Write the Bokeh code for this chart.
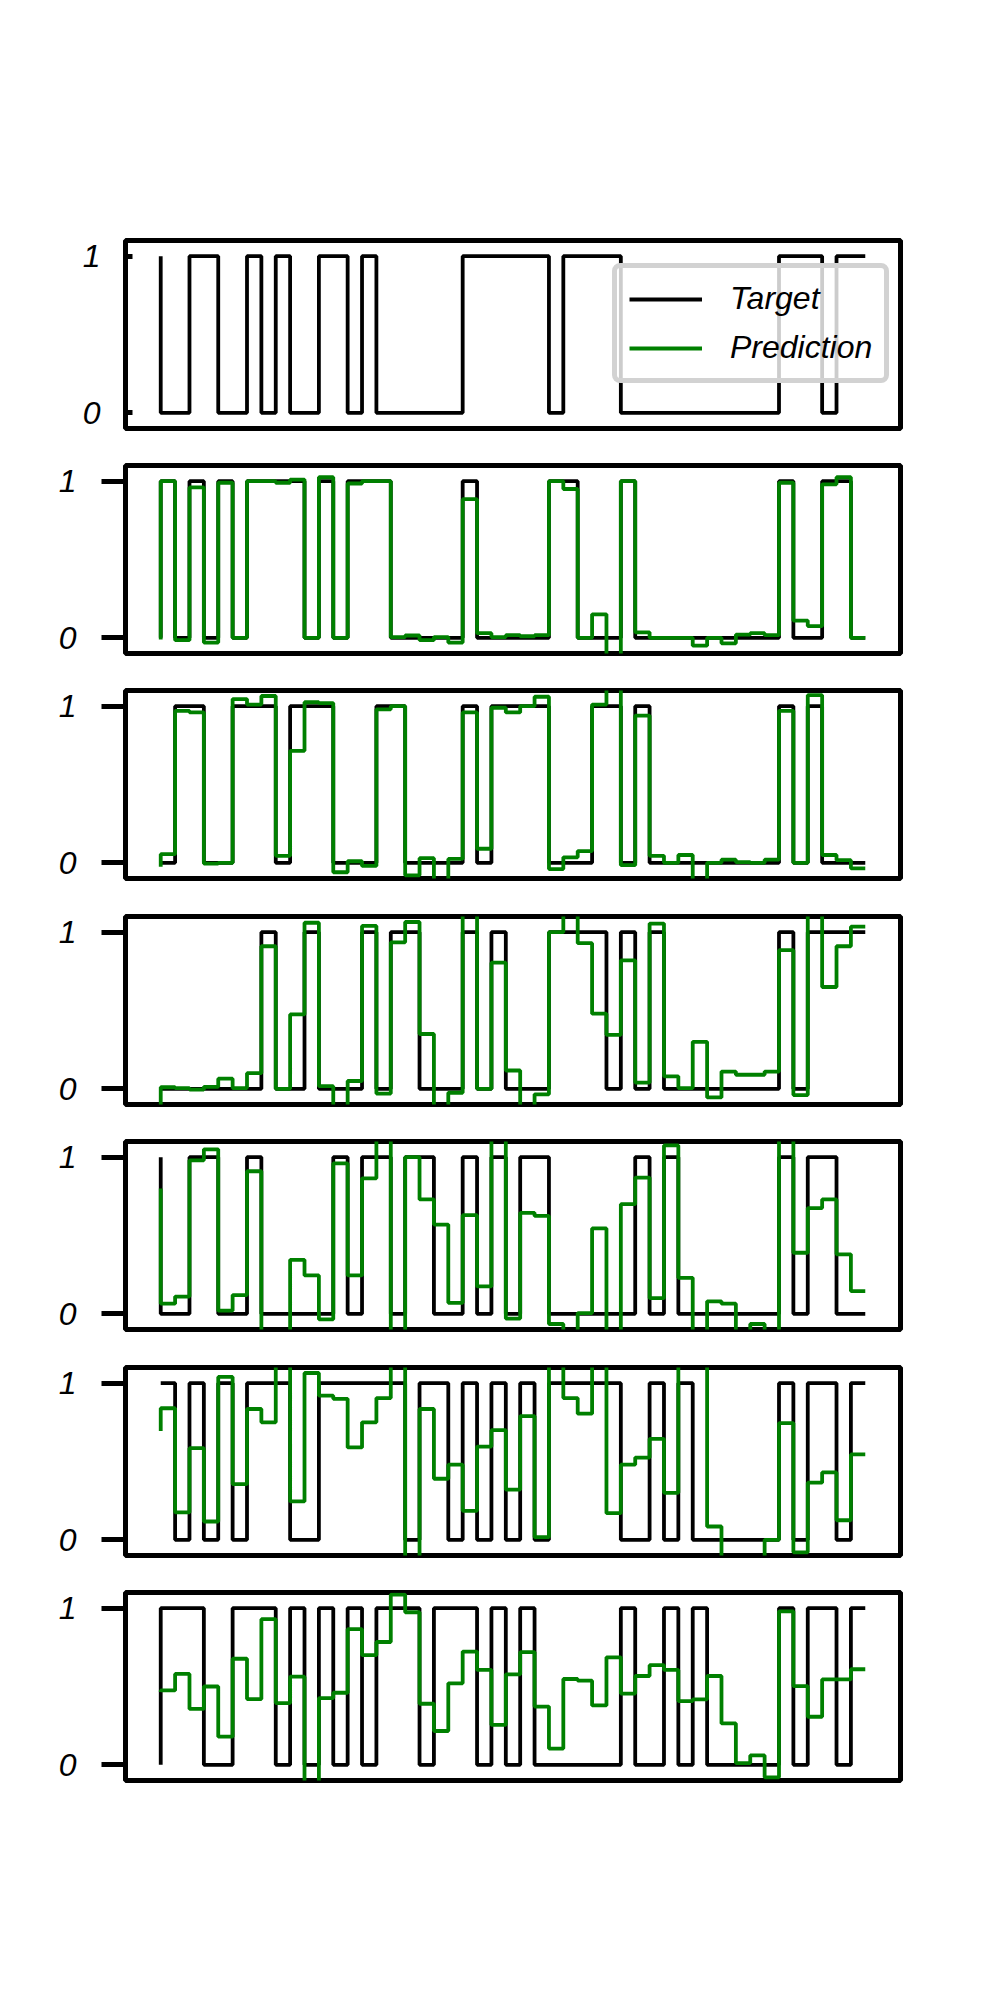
from bokeh.plotting import figure
from bokeh.layouts import column
from bokeh.models import Range1d, Legend, LegendItem, FixedTicker
from bokeh.embed import file_html
from bokeh.resources import INLINE

steps = list(range(50))

target_1 = [1,0,0,1,1,0,0,1,0,1, 0,0,1,1,0,1,0,0,0,0, 0,0,1,1,1,1,1,1,0,1,
            1,1,1,0,0,0,0,0,0,0, 0,0,0,0,1,1,1,0,1,1]
pred_1 = []

target_2 = [0,1,0,1,0,1,0,1,1,1, 1,0,1,0,1,1,1,0,0,0, 0,0,1,0,0,0,0,0,1,1,
            0,0,0,1,0,0,0,0,0,0, 0,0,0,0,1,0,0,1,1,0]
pred_2 = [-0.01, 1.0, -0.015, 0.96, -0.03, 0.99, 0.0, 1.0, 1.0, 0.99,
          1.01, 0.0, 1.025, 0.0, 0.985, 1.0, 1.0, 0.005, 0.015, -0.015,
          0.005, -0.03, 0.885, 0.03, 0.005, 0.017, 0.01, 0.017, 1.0, 0.95,
          0.0, 0.15, -0.2, 1.0, 0.035, 0.0, 0.0, 0.0, -0.05, 0.0,
          -0.035, 0.02, 0.03, 0.017, 0.99, 0.11, 0.075, 0.98, 1.025, 0.0]

target_3 = [0,0,1,1,0,0,1,1,1,0, 1,1,1,0,0,0,1,1,0,0, 0,0,1,0,1,1,1,1,0,0,
            0,1,1,0,1,0,0,0,0,0, 0,0,0,0,1,0,1,0,0,0]
pred_3 = [-0.025, 0.055, 0.97, 0.96, -0.005, 0.0, 1.045, 1.01, 1.065, 0.045,
          0.715, 1.025, 1.02, -0.06, 0.01, -0.02, 0.98, 1.0, -0.08, 0.03,
          -0.15, 0.025, 0.96, 0.09, 0.99, 0.96, 1.0, 1.06, -0.04, 0.035,
          0.075, 1.01, 1.15, -0.015, 0.94, 0.045, 0.0, 0.05, -0.12, 0.0,
          0.02, 0.005, 0.0, 0.02, 0.97, 0.0, 1.07, 0.05, 0.017, -0.035]

target_4 = [0,0,0,0,0,0,0,0,1,0, 0,1,0,0,0,1,0,1,1,0, 0,0,1,0,1,0,0,0,1,1,
            1,1,0,1,0,1,0,0,0,0, 0,0,0,0,1,0,1,1,1,1]
pred_4 = [-0.15, 0.01, 0.005, -0.005, 0.013, 0.065, 0.005, 0.1, 0.91, 0.0,
          0.475, 1.06, 0.017, -0.15, 0.05, 1.04, -0.03, 0.935, 1.065, 0.35,
          -0.15, -0.025, 1.15, 0.0, 0.805, 0.117, -0.15, -0.035, 1.0, 1.15,
          0.93, 0.48, 0.345, 0.82, 0.04, 1.055, 0.08, 0.005, 0.3, -0.055,
          0.11, 0.09, 0.09, 0.11, 0.885, -0.04, 1.15, 0.65, 0.91, 1.035]

target_5 = [1,0,0,1,1,0,0,1,0,0, 0,0,0,1,0,1,1,0,1,1, 0,0,1,0,1,0,1,1,0,0,
            0,0,0,0,1,0,1,0,0,0, 0,0,0,0,1,0,1,1,0,0]
pred_5 = [0.8, 0.065, 0.11, 0.98, 1.05, 0.02, 0.12, 0.91, -0.15, -0.15,
          0.345, 0.245, -0.035, 0.96, 0.245, 0.865, 1.15, -0.15, 1.0, 0.73,
          0.57, 0.07, 0.63, 0.175, 1.15, -0.03, 0.645, 0.625, -0.065, -0.15,
          0.005, 0.545, -0.15, 0.7, 0.87, 0.1, 1.075, 0.23, -0.15, 0.08,
          0.065, -0.15, -0.065, -0.15, 1.15, 0.39, 0.675, 0.73, 0.38, 0.145]

target_6 = [1,1,0,1,0,1,0,1,1,1, 0,0,1,1,1,1,1,1,0,1, 1,0,1,0,1,0,1,0,1,1,
            1,1,1,0,0,1,0,1,0,0, 0,0,0,0,1,0,1,1,0,1]
pred_6 = [0.695, 0.84, 0.175, 0.585, 0.117, 1.04, 0.355, 0.835, 0.75, 1.15,
          0.245, 1.065, 0.92, 0.9, 0.59, 0.75, 0.905, 1.15, -0.15, 0.835,
          0.39, 0.48, 0.185, 0.595, 0.7, 0.32, 0.79, 0.017, 1.15, 0.905,
          0.805, 1.15, 0.17, 0.48, 0.525, 0.645, 0.3, 1.15, 1.15, 0.085,
          -0.15, -0.15, -0.15, 0.0, 0.745, -0.08, 0.365, 0.43, 0.125, 0.545]

target_7 = [0,1,1,1,0,0,1,1,1,0, 1,0,1,0,1,0,1,1,1,0, 1,1,1,0,1,0,1,0,0,0,
            0,0,0,1,0,0,1,0,1,0, 0,0,0,0,1,0,1,1,0,1]
pred_7 = [0.465, 0.475, 0.58, 0.357, 0.5, 0.18, 0.677, 0.42, 0.93, 0.394,
          0.563, -0.15, 0.426, 0.46, 0.866, 0.7, 0.784, 1.087, 0.974, 0.39,
          0.216, 0.52, 0.723, 0.606, 0.255, 0.578, 0.72, 0.372, 0.104, 0.548,
          0.537, 0.379, 0.686, 0.455, 0.567, 0.636, 0.606, 0.407, 0.418, 0.567,
          0.264, 0.011, 0.06, -0.08, 0.98, 0.502, 0.307, 0.545, 0.545, 0.61]

y_ticks = [0, 1]
labels = ["Target", "Prediction"]

targets = [target_1, target_2, target_3, target_4, target_5, target_6, target_7]
preds = [pred_1, pred_2, pred_3, pred_4, pred_5, pred_6, pred_7]

FONT = "Liberation Sans"
GREEN = "#008000"
tops = [240, 465, 690, 916, 1141, 1367, 1592]
FH = 188
FW = 775
LW = 3.8

figs = []
for i in range(7):
    top_border = tops[0] if i == 0 else 20
    if i < 6:
        bottom_border = tops[i + 1] - 20 - (tops[i] + FH)
    else:
        bottom_border = 40
    p = figure(frame_width=FW, frame_height=FH,
               min_border_left=125, min_border_right=100,
               min_border_top=top_border, min_border_bottom=bottom_border,
               x_range=Range1d(-2.45, 51.45), y_range=Range1d(-0.1, 1.1),
               x_axis_location=None, toolbar_location=None,
               output_backend="svg")
    p.grid.visible = False
    p.outline_line_color = "black"
    p.outline_line_width = 5
    p.outline_line_alpha = 1.0
    p.background_fill_color = "white"
    p.border_fill_color = "white"

    ax = p.yaxis[0]
    ax.ticker = FixedTicker(ticks=y_ticks, minor_ticks=[])
    ax.axis_line_color = None
    ax.major_tick_line_color = "black"
    ax.major_tick_line_width = 5
    ax.minor_tick_line_color = None
    if i == 0:
        ax.major_tick_out = 0
        ax.major_tick_in = 7
    else:
        ax.major_tick_out = 24
        ax.major_tick_in = 0
    ax.major_label_standoff = 25
    ax.major_label_text_font = FONT
    ax.major_label_text_font_size = "32px"
    ax.major_label_text_font_style = "italic"
    ax.major_label_text_color = "black"

    r_t = p.step(x=steps, y=targets[i], mode="before",
                 line_color="black", line_width=LW)
    if len(preds[i]) > 0:
        r_p = p.step(x=steps, y=preds[i], mode="before",
                     line_color=GREEN, line_width=LW)
    else:
        # legend handle only: panel 1 shows no prediction curve
        r_p = p.line(x=[float("nan")], y=[float("nan")],
                     line_color=GREEN, line_width=LW)

    if i == 0:
        legend = Legend(items=[LegendItem(label=labels[0], renderers=[r_t]),
                               LegendItem(label=labels[1], renderers=[r_p])],
                        location=(487, 45))
        legend.margin = 0
        legend.padding = 12
        legend.spacing = 12
        legend.glyph_width = 73
        legend.glyph_height = 34
        legend.label_height = 34
        legend.label_standoff = 28
        legend.label_text_font = FONT
        legend.label_text_font_size = "32px"
        legend.label_text_font_style = "italic"
        legend.label_text_color = "black"
        legend.border_line_color = "#d2d2d2"
        legend.border_line_width = 5
        legend.border_line_alpha = 1.0
        legend.background_fill_color = "white"
        legend.background_fill_alpha = 0.8
        try:
            legend.border_radius = 8
        except Exception:
            pass
        p.add_layout(legend)
    figs.append(p)

layout = column(*figs, spacing=0)
open("out.html", "w").write(file_html(layout, INLINE))
